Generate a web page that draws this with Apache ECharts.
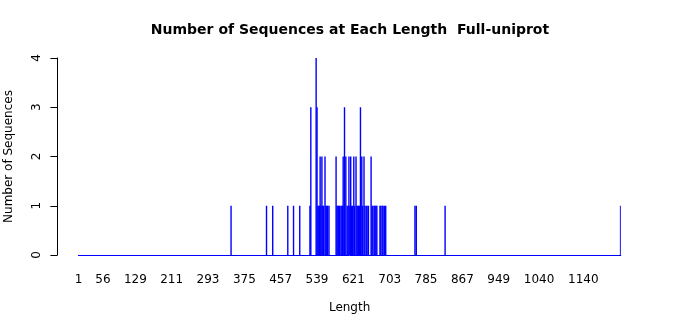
<!DOCTYPE html>
<html>
<head>
<meta charset="utf-8">
<script src="https://cdn.jsdelivr.net/npm/echarts@6/dist/echarts.min.js"></script>
<style>html,body{margin:0;padding:0;background:#fff}#c{width:700px;height:315px}</style>
</head>
<body>
<div id="c"></div>
<script>
const maxLength = 1224;
const tickLabels = [1, 56, 129, 211, 293, 375, 457, 539, 621, 703, 785, 867, 949, 1040, 1140];
const yTicks = [0, 1, 2, 3, 4];
const lengths = [345, 425, 439, 473, 486, 500, 523, 525, 537, 539, 541, 543, 545, 546, 548, 550, 552, 554, 557, 559, 561, 563, 566,
  582, 584, 586, 588, 590, 593, 595, 597, 598, 601, 604, 607, 609, 611, 613, 615, 617, 619, 622, 624, 627, 629, 631,
  633, 635, 637, 640, 642, 645, 647, 650, 652, 655, 661, 663, 665, 668, 670, 672, 674,
  681, 683, 686, 688, 691, 694, 760, 763, 828, 1224];
const counts = [1, 1, 1, 1, 1, 1, 1, 3, 4, 3, 1, 1, 1, 2, 1, 2, 1, 1, 2, 1, 1, 1, 1,
  2, 1, 1, 1, 1, 1, 1, 1, 2, 3, 2, 1, 1, 2, 1, 2, 1, 1, 2, 1, 2, 1, 1,
  1, 1, 3, 2, 1, 2, 1, 1, 1, 1, 2, 1, 1, 1, 1, 1, 1,
  1, 1, 1, 1, 1, 1, 1, 1, 1, 1];

const categories = [];
for (let i = 1; i <= maxLength; i++) categories.push(String(i));

const chart = echarts.init(document.getElementById('c'), null, {renderer: 'canvas'});
chart.setOption({
  animation: false,
  backgroundColor: '#ffffff',
  title: {
    text: 'Number of Sequences at Each Length  Full-uniprot',
    left: 'center', top: 18,
    textStyle: {fontFamily: 'DejaVu Sans', fontSize: 14, fontWeight: 'bold', color: '#000'}
  },
  grid: {left: 78.4, right: 79.2, top: 58, bottom: 60, containLabel: false, outerBoundsMode: 'none'},
  xAxis: {
    type: 'category',
    data: categories,
    boundaryGap: true,
    name: 'Length',
    nameLocation: 'middle',
    nameGap: 47,
    nameTextStyle: {fontFamily: 'DejaVu Sans', fontSize: 12, color: '#000'},
    axisLine: {show: true, lineStyle: {color: '#0000ff', width: 1}},
    axisTick: {show: false},
    splitLine: {show: false},
    axisLabel: {
      interval: function (idx, val) { return tickLabels.indexOf(Number(val)) >= 0; },
      hideOverlap: false,
      margin: 19,
      fontFamily: 'DejaVu Sans', fontSize: 12, color: '#000'
    }
  },
  yAxis: {
    type: 'value',
    min: yTicks[0], max: yTicks[yTicks.length - 1], interval: 1,
    offset: 21,
    name: 'Number of Sequences',
    nameLocation: 'middle',
    nameGap: 43,
    nameRotate: 90,
    nameTextStyle: {fontFamily: 'DejaVu Sans', fontSize: 12, color: '#000'},
    axisLine: {show: true, lineStyle: {color: '#000', width: 1}},
    axisTick: {show: true, length: 7, lineStyle: {color: '#000'}},
    splitLine: {show: false},
    axisLabel: {rotate: 90, margin: 15, fontFamily: 'DejaVu Sans', fontSize: 12, color: '#000'}
  },
  series: [{
    type: 'bar',
    data: lengths.map((l, i) => [String(l), counts[i]]),
    barWidth: 1.4,
    itemStyle: {color: '#0000ff'}
  }]
});
</script>
</body>
</html>
